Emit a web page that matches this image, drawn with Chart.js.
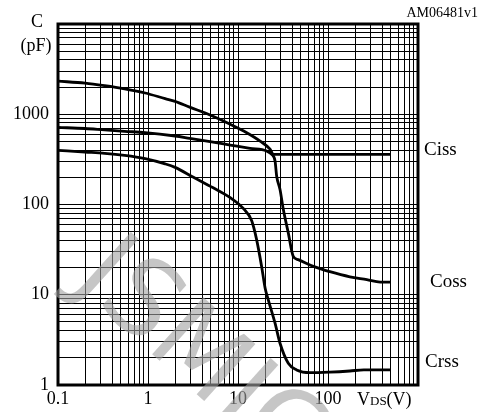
<!DOCTYPE html>
<html>
<head>
<meta charset="utf-8">
<script src="https://cdn.jsdelivr.net/npm/chart.js@4.4.1/dist/chart.umd.min.js"></script>
<style>
  html, body { margin: 0; padding: 0; background: #fff; }
  #wrap { position: relative; width: 481px; height: 412px; }
</style>
</head>
<body>
<div id="wrap"><canvas id="c" width="481" height="412"></canvas></div>
<script>
// Axis decades and their labels
const xDecades = [0.1, 1, 10, 100, 1000];
const yDecades = [1, 10, 100, 1000, 10000];
const xDecadeLabels = ['0.1', '1', '10', '100', ''];
const yDecadeLabels = ['1', '10', '100', '1000', ''];

// Ciss (input capacitance), pF vs VDS
const cissV = [0.1, 0.2, 0.33, 0.55, 0.93, 1.55, 2.0, 2.9, 4.9, 8.2, 12.5, 17.6, 22.7, 24.7, 490];
const cissC = [2330, 2210, 2070, 1910, 1720, 1490, 1390, 1200, 980, 775, 625, 505, 410, 360, 360];

// Coss (output capacitance)
const cossV = [0.1, 0.2, 0.33, 0.55, 0.93, 2.0, 2.9, 4.9, 8.2, 13.6, 20.8, 23.7, 25.8, 26.9, 29.3, 31.9, 36.2, 41.1, 46.7, 68.7, 105, 175, 270, 380, 490];
const cossC = [715, 695, 670, 647, 626, 574, 541, 497, 456, 419, 391, 359, 303, 206, 147, 88, 48.5, 26.7, 24.5, 20.6, 18.0, 15.8, 14.7, 13.8, 13.8];

// Crss (reverse transfer capacitance)
const crssV = [0.1, 0.2, 0.33, 0.55, 0.93, 1.55, 2.0, 3.2, 5.3, 8.2, 11.5, 14.2, 16.1, 18.3, 20, 21.7, 25.8, 29.3, 36.2, 44.8, 63, 105, 175, 250, 490];
const crssC = [398, 381, 369, 350, 322, 282, 258, 200, 153, 119, 90, 66, 40.8, 20.6, 11.9, 8.8, 4.85, 2.9, 1.74, 1.47, 1.37, 1.39, 1.43, 1.47, 1.47];

const SERIF = '"Liberation Serif", "Times New Roman", serif';

function zip(xs, ys) { return xs.map((x, i) => ({ x, y: ys[i] })); }

// 1..9 per decade grid values, with a label only on the decade itself
function buildGrid(decades, labels) {
  const vals = [], labs = [];
  for (let d = 0; d < decades.length - 1; d++) {
    for (let k = 1; k <= 9; k++) {
      vals.push(decades[d] * k);
      labs.push(k === 1 ? labels[d] : '');
    }
  }
  vals.push(decades[decades.length - 1]);
  labs.push(labels[labels.length - 1]);
  return { vals, labs };
}
const xGrid = buildGrid(xDecades, xDecadeLabels);
const yGrid = buildGrid(yDecades, yDecadeLabels);

function curve(label, xs, ys) {
  return {
    label,
    data: zip(xs, ys),
    borderColor: '#000',
    borderWidth: 2.8,
    pointRadius: 0,
    fill: false,
    cubicInterpolationMode: 'monotone'
  };
}

const annotations = {
  id: 'annotations',
  afterDraw(chart) {
    const { ctx, chartArea: a } = chart;
    ctx.save();
    // plot frame
    ctx.strokeStyle = '#000';
    ctx.lineWidth = 3;
    ctx.strokeRect(a.left, a.top, a.right - a.left, a.bottom - a.top);

    ctx.fillStyle = '#000';
    ctx.textBaseline = 'alphabetic';
    ctx.textAlign = 'center';
    ctx.font = '18px ' + SERIF;
    ctx.fillText('C', 37, 27);
    ctx.fillText('(pF)', 36, 51);

    ctx.textAlign = 'right';
    ctx.font = '14px ' + SERIF;
    ctx.fillText('AM06481v1', 478, 17);

    ctx.textAlign = 'left';
    ctx.font = '19px ' + SERIF;
    ctx.fillText('Ciss', 424, 155);
    ctx.fillText('Coss', 430, 287);
    ctx.fillText('Crss', 425, 367);

    // VDS(V) axis title with small-size subscript
    let x = 357;
    const yb = 405;
    ctx.font = '18px ' + SERIF;
    ctx.fillText('V', x, yb);
    x += ctx.measureText('V').width;
    ctx.font = '13px ' + SERIF;
    ctx.fillText('DS', x, yb);
    x += ctx.measureText('DS').width;
    ctx.font = '18px ' + SERIF;
    ctx.fillText('(V)', x, yb);

    // watermark
    ctx.translate(72, 282);
    ctx.rotate(42 * Math.PI / 180);
    ctx.font = '105px "DejaVu Sans"';
    ctx.fillStyle = 'rgba(160,160,160,0.6)';
    ctx.textAlign = 'left';
    ctx.fillText('JSMICRO', 0, 0);
    ctx.restore();
  }
};

new Chart(document.getElementById('c'), {
  type: 'line',
  data: {
    datasets: [
      curve('Ciss', cissV, cissC),
      curve('Coss', cossV, cossC),
      curve('Crss', crssV, crssC)
    ]
  },
  options: {
    responsive: false,
    animation: false,
    layout: { padding: { top: 24, right: 63, left: 0, bottom: 0 } },
    plugins: { legend: { display: false }, tooltip: { enabled: false } },
    scales: {
      x: {
        type: 'logarithmic',
        min: xDecades[0],
        max: xDecades[xDecades.length - 1],
        afterBuildTicks: s => { s.ticks = xGrid.vals.map(v => ({ value: v })); },
        afterFit: s => { s.height = 27; },
        grid: { color: '#000', lineWidth: 1, drawTicks: false },
        border: { display: false },
        ticks: {
          autoSkip: false, maxRotation: 0, padding: 3, color: '#000',
          font: { family: SERIF, size: 18 },
          callback: (v, i) => xGrid.labs[i]
        }
      },
      y: {
        type: 'logarithmic',
        min: yDecades[0],
        max: yDecades[yDecades.length - 1],
        afterBuildTicks: s => { s.ticks = yGrid.vals.map(v => ({ value: v })); },
        afterFit: s => { s.width = 58; },
        grid: { color: '#000', lineWidth: 1, drawTicks: false },
        border: { display: false },
        ticks: {
          autoSkip: false, padding: 9, color: '#000',
          font: { family: SERIF, size: 18 },
          callback: (v, i) => yGrid.labs[i]
        }
      }
    }
  },
  plugins: [annotations]
});
</script>
</body>
</html>
